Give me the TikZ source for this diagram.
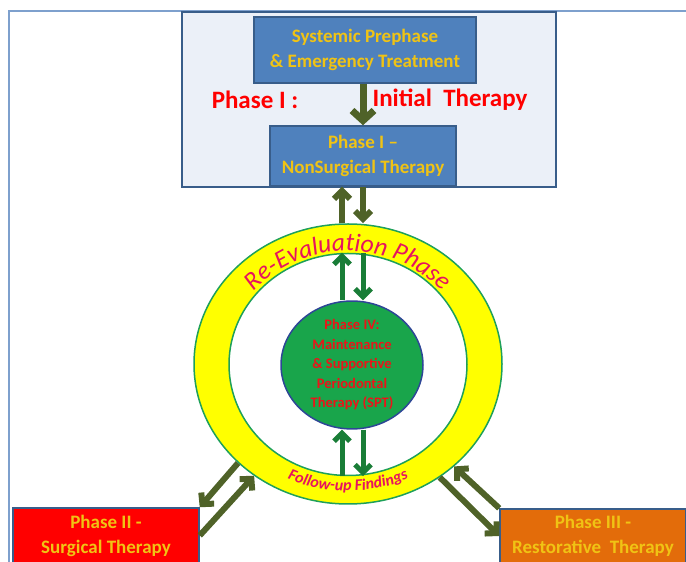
\documentclass[tikz,border=0pt]{standalone}
\usepackage{fontspec}
\setmainfont{Carlito}
\usetikzlibrary{arrows.meta,decorations.text,shapes.geometric}
\definecolor{framec}{RGB}{126,160,205}
\definecolor{panelfill}{RGB}{235,240,248}
\definecolor{panelline}{RGB}{56,93,138}
\definecolor{boxblue}{RGB}{79,129,189}
\definecolor{goldtxt}{RGB}{240,195,20}
\definecolor{olivec}{RGB}{79,98,40}
\definecolor{dgreen}{RGB}{25,125,55}
\definecolor{ringline}{RGB}{30,160,90}
\definecolor{ringfill}{RGB}{255,255,0}
\definecolor{ellfill}{RGB}{25,165,75}
\definecolor{ellline}{RGB}{45,70,150}
\definecolor{txtred}{RGB}{235,20,25}
\definecolor{wordpink}{RGB}{230,20,95}
\definecolor{p2red}{RGB}{255,0,0}
\definecolor{p3orange}{RGB}{227,108,10}
\tikzset{
  phasebox/.style={draw=panelline, line width=1.5pt, inner sep=0pt, align=center,
    text=goldtxt, font=\fontsize{19}{25}\selectfont\bfseries},
  bigarrow/.style={draw=olivec, line width=7pt, -{Straight Barb[length=10pt,width=22pt]}},
  oarrow/.style={draw=olivec, line width=6pt, -{Straight Barb[length=8pt,width=16pt]}},
  garrow/.style={draw=dgreen, line width=5pt, -{Straight Barb[length=8pt,width=16pt]}},
  darrow/.style={draw=olivec, line width=6pt, -{Straight Barb[length=8pt,width=17pt]}},
  redlabel/.style={text=p2red, font=\fontsize{25}{30}\selectfont\bfseries, inner sep=0pt}
}
\begin{document}
\begin{tikzpicture}[x=1pt,y=1pt]
\useasboundingbox (0,0) rectangle (686,562);
% outer frame
\draw[framec, line width=1.5pt] (9,0) -- (9,551) -- (686,551);
% top panel
\node[draw=panelline, fill=panelfill, line width=2pt, minimum width=374pt, minimum height=175pt, inner sep=0pt] (panel) at (369,462.5) {};
\node[phasebox, fill=boxblue, minimum width=222pt, minimum height=66pt] (sys) at (365,512) {Systemic Prephase\\\& Emergency Treatment};
\node[phasebox, fill=boxblue, minimum width=186pt, minimum height=60pt] (p1) at (363,406) {Phase I --\\NonSurgical Therapy};
\node[redlabel] (lab1) at (255,462) {Phase I :};
\node[redlabel] (lab2) at (450,462) {Initial\ \ Therapy};
% ring
\node[ellipse, draw=ringline, fill=ringfill, line width=1.5pt, minimum width=308pt, minimum height=280pt, inner sep=0pt] (ring) at (348,198) {};
\node[ellipse, draw=ringline, fill=white, line width=1.5pt, minimum width=238pt, minimum height=222pt, inner sep=0pt] (hole) at (348,197.5) {};
\node[ellipse, draw=ellline, fill=ellfill, line width=1.5pt, minimum width=142pt, minimum height=126pt, inner sep=0pt, align=center, text=txtred, font=\fontsize{14.5}{19.5}\selectfont\bfseries] (p4) at (352,197) {Phase IV:\\Maintenance\\\& Supportive\\Periodontal\\Therapy (SPT)};
% curved texts
\path[decorate, decoration={text along path, text align=center,
  text={|\fontsize{25.5}{27}\selectfont\itshape\color{wordpink}|Re-Evaluation Phase}}]
  (348,198) ++(172:123 and 113) arc[start angle=172, end angle=8, x radius=123, y radius=113];
\path[decorate, decoration={text along path, text align=center,
  text={|\fontsize{16}{18}\selectfont\bfseries\itshape\color{wordpink}|Follow-up Findings}}]
  (348,198) ++(215:140 and 127) arc[start angle=215, end angle=325, x radius=140, y radius=127];
% bottom boxes
\node[phasebox, fill=p2red, minimum width=186pt, minimum height=55pt] (p2) at (106,26.5) {Phase II -\\Surgical Therapy};
\node[phasebox, fill=p3orange, minimum width=186pt, minimum height=54pt] (p3) at (593,26) {Phase III -\\Restorative\ \ Therapy};
% x positions of vertical connectors
\coordinate (xl) at (342,0);
\coordinate (xr) at (363,0);
% arrows
\draw[bigarrow] (sys.south -| p1.north) -- (p1.north);
\draw[oarrow] (ring.north -| xl) -- (p1.south -| xl);
\draw[oarrow] (p1.south -| xr) -- (ring.north -| xr);
\draw[garrow] (p4.north -| xl) -- (hole.north -| xl);
\draw[garrow] (hole.north -| xr) -- (p4.north -| xr);
\draw[garrow] (hole.south -| xl) -- (p4.south -| xl);
\draw[garrow] (p4.south -| xr) -- (hole.south -| xr);
\draw[darrow] (ring.222.6) -- (p2.north east);
\draw[darrow] (p2.east) -- (ring.230.5);
\draw[darrow] (ring.309.8) -- (p3.west);
\draw[darrow] (p3.north west) -- (ring.316.1);
\end{tikzpicture}
\end{document}
